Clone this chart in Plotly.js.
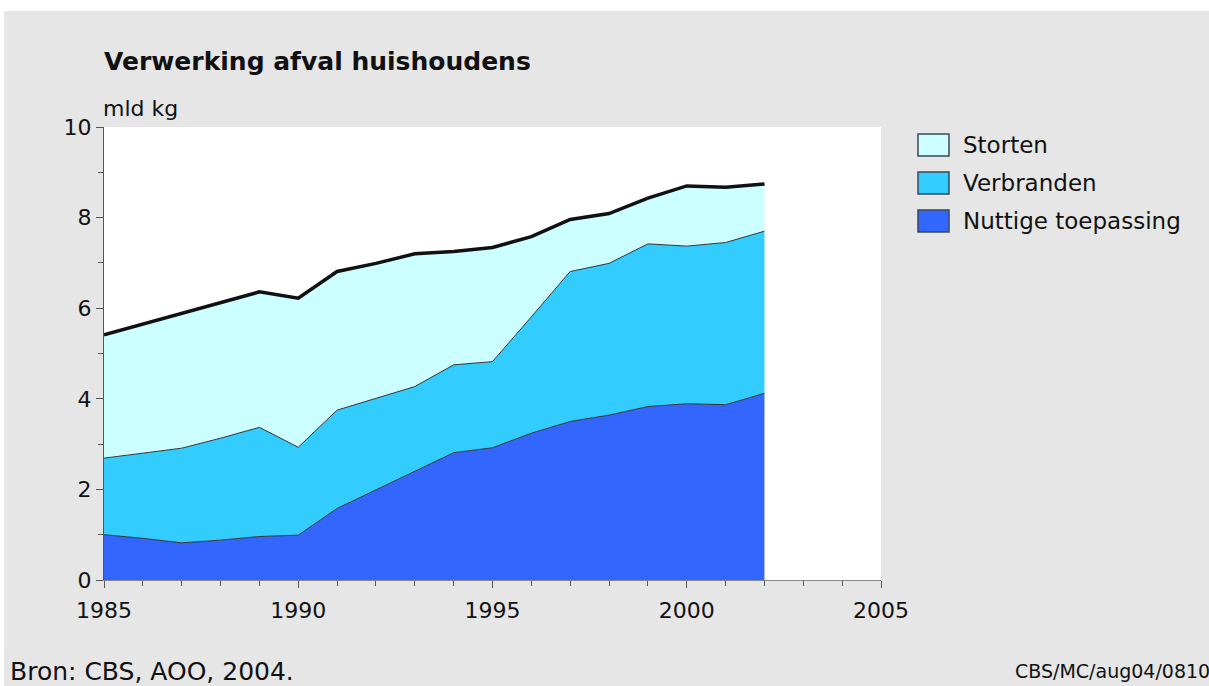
<!DOCTYPE html>
<html><head><meta charset="utf-8">
<script src="https://cdn.plot.ly/plotly-3.0.1.min.js"></script>
<style>
html,body{margin:0;padding:0;background:#ffffff;}
#chart{position:absolute;left:4px;top:11px;width:1205px;height:675px;}
</style></head>
<body><div id="chart"></div>
<script>
const years = [1985,1986,1987,1988,1989,1990,1991,1992,1993,1994,1995,1996,1997,1998,1999,2000,2001,2002];
const nuttige = [1.00,0.92,0.82,0.88,0.96,0.99,1.58,1.99,2.39,2.81,2.92,3.24,3.50,3.64,3.83,3.89,3.87,4.12];
const verbranden = [1.69,1.88,2.09,2.25,2.41,1.94,2.17,2.02,1.88,1.94,1.90,2.57,3.31,3.35,3.59,3.48,3.58,3.58];
const storten = [2.72,2.85,2.99,3.01,2.99,3.29,3.06,2.98,2.93,2.50,2.52,1.77,1.15,1.10,1.01,1.33,1.22,1.04];
const seriesNames = ['Nuttige toepassing','Verbranden','Storten'];
const seriesColors = ['#3366ff','#33ccff','#ccffff'];
const yTickVals = [0,2,4,6,8,10];
const xTickVals = [1985,1990,1995,2000,2005];

const totals = years.map((_, i) => nuttige[i] + verbranden[i] + storten[i]);
const data = [nuttige, verbranden, storten].map((vals, k) => ({
  x: years, y: vals, name: seriesNames[k], type: 'scatter', mode: 'lines',
  stackgroup: 'one', fillcolor: seriesColors[k],
  line: {color: '#333333', width: 1}
}));
data.push({x: years, y: totals, type: 'scatter', mode: 'lines', showlegend: false,
  line: {color: '#111111', width: 3.5}, hoverinfo: 'skip'});

const font = 'DejaVu Sans, Arial, sans-serif';
// plot area in page px: x 104..881, y 127..580
const px = x => (x - 104) / 777;
const py = y => (580 - y) / 453;

const shapes = [];
const annotations = [
  {text: 'mld kg', xref: 'paper', yref: 'paper', x: px(101), y: py(108), xanchor: 'left', yanchor: 'middle',
   showarrow: false, font: {size: 22}},
  {text: 'Bron: CBS, AOO, 2004.', xref: 'paper', yref: 'paper', x: px(8), y: py(671),
   xanchor: 'left', yanchor: 'middle', showarrow: false, font: {size: 25}},
  {text: 'CBS/MC/aug04/0810', xref: 'paper', yref: 'paper', x: px(1013), y: py(671),
   xanchor: 'left', yanchor: 'middle', showarrow: false, font: {size: 19}}
];
// custom legend (top-down: Storten, Verbranden, Nuttige toepassing)
[2, 1, 0].forEach((k, i) => {
  const cy = 145 + i * 38;
  shapes.push({type: 'rect', xref: 'paper', yref: 'paper', x0: px(918), x1: px(949),
    y0: py(cy - 11), y1: py(cy + 11), fillcolor: seriesColors[k], line: {color: '#3a4a5a', width: 1.5}});
  annotations.push({text: seriesNames[k], xref: 'paper', yref: 'paper', x: px(961), y: py(cy),
    xanchor: 'left', yanchor: 'middle', showarrow: false, font: {size: 23}});
});

const layout = {
  width: 1205, height: 675,
  paper_bgcolor: '#e6e6e6', plot_bgcolor: '#ffffff',
  margin: {l: 100, r: 328, t: 116, b: 106},
  font: {family: font, color: '#111111', size: 18},
  title: {text: '<b>Verwerking afval huishoudens</b>', x: 100/1205, xanchor: 'left',
          y: 1 - 50/675, yanchor: 'middle', font: {size: 25, family: font, color: '#111'}},
  xaxis: {range: [1985, 2005], tickvals: xTickVals, ticks: 'outside', ticklen: 7,
          tickcolor: '#555', showline: true, linecolor: '#888', linewidth: 1,
          showgrid: false, zeroline: false, tickfont: {size: 22}, ticklabelstandoff: 4,
          minor: {dtick: 1, ticks: 'outside', ticklen: 5, tickcolor: '#555'}},
  yaxis: {range: [0, 10], tickvals: yTickVals, ticks: 'outside', ticklen: 7,
          tickcolor: '#555', showline: true, linecolor: '#555', linewidth: 1,
          showgrid: false, zeroline: false, tickfont: {size: 22},
          minor: {dtick: 1, ticks: 'outside', ticklen: 5, tickcolor: '#555'}},
  showlegend: false,
  shapes: shapes,
  annotations: annotations
};
Plotly.newPlot('chart', data, layout, {displayModeBar: false, staticPlot: true});
</script></body></html>
